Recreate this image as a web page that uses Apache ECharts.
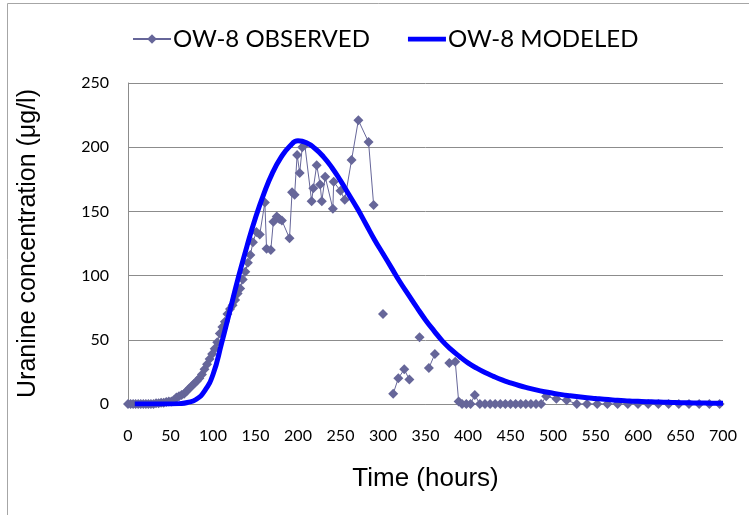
<!DOCTYPE html>
<html>
<head>
<meta charset="utf-8">
<title>OW-8 uranine breakthrough</title>
<script src="https://cdn.jsdelivr.net/npm/echarts@6/dist/echarts.min.js"></script>
<style>
  html, body { margin: 0; padding: 0; background: #fff; }
  #chart { width: 749px; height: 515px; }
</style>
</head>
<body>
<div id="chart"></div>
<script>
// observed samples (hours, ug/l); null = break in the line
const obsTime = [0, 3, 6, 9, 12, 15, 18, 21, 24, 27, 30, 33, 36, 39, 42, 45, 48, 51, 54, 57,
  60, 63, 66, 69, 72, 75, 78, 81, 84, 87, 90, 93, 96, 99, 102, 105, 108, 111, 114, 117,
  120, 123, 126, 129, 132, 135, 138, 141, 144, 147, 151, 155, 161, 163, 168, 171, 175, 178, 181, 190,
  193, 196, 199, 202, 205, 208, 216, 218, 222, 226, 228, 232, 241, 242, 250, 255, 263, 271, 283, 289,
  295, 300, 306, 312, 318, 325, 331, 337, 343, 349, 354, 361, 370, 378, 385, 389, 393, 398, 403, 408,
  414, 420, 426, 432, 438, 444, 450, 456, 462, 468, 474, 480, 486, 492, 504, 516, 528, 540, 552, 564,
  576, 588, 600, 612, 624, 636, 648, 660, 672, 684, 696];
const obsConc = [0, 0, 0, 0, 0, 0, 0, 0, 0, 0, 0, 0.5, 0.5, 1, 1, 1.5, 2, 2, 3, 5,
  6, 7, 8, 10, 12, 14, 16, 18, 20, 23, 27, 31, 35, 39, 43, 48, 55, 60, 64, 70,
  74, 77, 81, 86, 90, 97, 103, 110, 116, 126, 134, 132, 157, 121, 120, 142, 146, 144, 143, 129,
  165, 163, 194, 180, 200, 202, 158, 168, 186, 171, 158, 177, 152, 173, 166, 159, 190, 221, 204, 155,
  null, 70, null, 8, 20, 27, 19, null, 52, null, 28, 39, null, 32, 33, 2, 0, 0, 0, 7,
  0, 0, 0, 0, 0, 0, 0, 0, 0, 0, 0, 0, 0, 6, 4, 3, 0, 0, 0, 0,
  0, 0, 0, 0, 0, 0, 0, 0, 0, 0, 0];

// modeled curve
const modTime = [8, 20, 30, 40, 50, 60, 70, 80, 90, 100, 110, 120, 130, 140, 150, 160, 170, 180, 190, 200,
  210, 220, 230, 240, 250, 260, 270, 280, 290, 300, 310, 320, 330, 340, 350, 360, 370, 380, 390, 400,
  410, 420, 430, 440, 450, 460, 470, 480, 490, 500, 510, 520, 530, 540, 550, 560, 570, 580, 590, 600,
  610, 620, 630, 640, 650, 660, 670, 680, 690, 700];
const modConc = [0, 0, 0, 0, 0, 0.3, 1.2, 3.5, 10, 23, 47, 73, 99, 123, 145, 164, 180, 192, 200.5, 205,
  203.5, 199, 192.5, 184, 174, 163, 152, 140, 128, 117, 106, 95, 85, 75, 65.5, 57, 49, 42.5, 37, 32,
  28, 24.5, 21.5, 18.8, 16.5, 14.4, 12.6, 11, 9.6, 8.4, 7.3, 6.4, 5.6, 4.9, 4.3, 3.7, 3.2, 2.8, 2.4, 2.1,
  1.8, 1.6, 1.4, 1.2, 1, 0.9, 0.8, 0.7, 0.6, 0.5];

const xTicks = { min: 0, max: 700, step: 50 };
const yTicks = { min: 0, max: 250, step: 50 };

const pairs = (xs, ys) => xs.map((x, i) => [x, ys[i] === null ? '-' : ys[i]]);

const chart = echarts.init(document.getElementById('chart'));
chart.setOption({
  animation: false,
  backgroundColor: '#fff',
  graphic: [
    { type: 'line', shape: { x1: 7.5, y1: 3.5, x2: 749, y2: 3.5 }, style: { stroke: '#a6a6a6', lineWidth: 1 } },
    { type: 'line', shape: { x1: 7.5, y1: 3.5, x2: 7.5, y2: 515 }, style: { stroke: '#a6a6a6', lineWidth: 1 } }
  ],
  legend: {
    left: 127,
    top: 22,
    itemWidth: 38,
    itemHeight: 12,
    itemGap: 38,
    textStyle: { fontFamily: 'Lato', fontSize: 24, color: '#000', padding: [0, 0, 0, -3] },
    data: [
      'OW-8 OBSERVED',
      { name: 'OW-8 MODELED', icon: 'path://M0,0H40V5H0Z' }
    ]
  },
  grid: { left: 128, right: 26, top: 83, bottom: 111 },
  xAxis: {
    type: 'value',
    min: xTicks.min,
    max: xTicks.max,
    interval: xTicks.step,
    name: 'Time (hours)',
    nameLocation: 'middle',
    nameGap: 62,
    nameTextStyle: { fontFamily: 'Liberation Sans', fontSize: 26, color: '#000' },
    axisLine: { show: true, lineStyle: { color: '#8c8c8c', width: 1 } },
    axisTick: { show: false },
    splitLine: { show: false },
    axisLabel: { margin: 24, fontFamily: 'Lato', fontSize: 16, color: '#000' }
  },
  yAxis: {
    type: 'value',
    min: yTicks.min,
    max: yTicks.max,
    interval: yTicks.step,
    name: 'Uranine concentration (\u03bcg/l)',
    nameLocation: 'middle',
    nameGap: 87,
    nameTextStyle: { fontFamily: 'Liberation Sans', fontSize: 25, color: '#000' },
    axisLine: { show: true, lineStyle: { color: '#8c8c8c', width: 1 } },
    axisTick: { show: false },
    splitLine: { show: true, lineStyle: { color: '#8c8c8c', width: 1 } },
    axisLabel: { margin: 19, fontFamily: 'Lato', fontSize: 16, color: '#000' }
  },
  series: [
    {
      name: 'OW-8 OBSERVED',
      type: 'line',
      data: pairs(obsTime, obsConc),
      connectNulls: false,
      symbol: 'diamond',
      symbolSize: 10,
      showAllSymbol: true,
      lineStyle: { color: '#666699', width: 1 },
      itemStyle: { color: '#666699' },
      z: 2
    },
    {
      name: 'OW-8 MODELED',
      type: 'line',
      data: pairs(modTime, modConc),
      smooth: 0.5,
      symbol: 'none',
      lineStyle: { color: '#0000ff', width: 5, join: 'round' },
      itemStyle: { color: '#0000ff' },
      z: 3
    }
  ]
});
</script>
</body>
</html>
